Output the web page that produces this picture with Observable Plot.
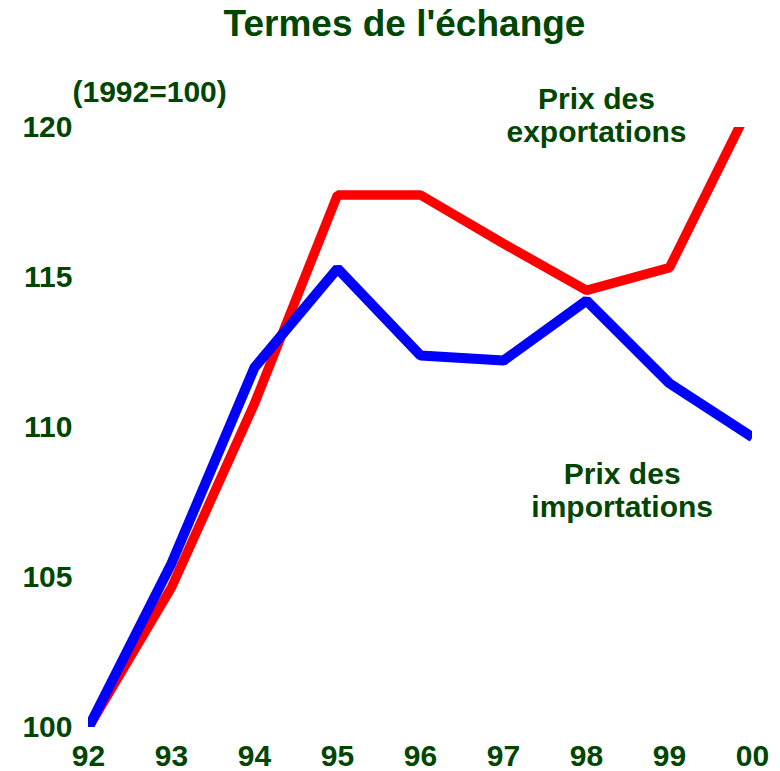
<!DOCTYPE html>
<html>
<head>
<meta charset="utf-8">
<script src="https://cdn.jsdelivr.net/npm/d3@7"></script>
<script src="https://cdn.jsdelivr.net/npm/@observablehq/plot@0.6"></script>
<style>
  html, body { margin: 0; padding: 0; background: #fff; }
</style>
</head>
<body>
<div id="chart"></div>
<script>
const years = [1992, 1993, 1994, 1995, 1996, 1997, 1998, 1999, 2000];
const exportPrices = [100, 104.67, 110.8, 117.75, 117.75, 116.13, 114.57, 115.33, 120.9];
const importPrices = [100, 105.47, 112.0, 115.3, 112.4, 112.23, 114.23, 111.47, 109.67];
const yTicks = [100, 105, 110, 115, 120];
const xTickLabels = ["92", "93", "94", "95", "96", "97", "98", "99", "00"];
const title = "Termes de l'échange";
const unitLabel = "(1992=100)";
const seriesLabels = [
  {text: "Prix des\nexportations", x: 1998.12, y: 121.4},
  {text: "Prix des\nimportations", x: 1998.43, y: 108.9}
];

const green = "#004600";
const font = "'Liberation Sans', Arial, sans-serif";

const exportData = years.map((year, i) => ({year, value: exportPrices[i]}));
const importData = years.map((year, i) => ({year, value: importPrices[i]}));

const chart = Plot.plot({
  width: 780,
  height: 771,
  marginLeft: 88,
  marginRight: 28,
  marginTop: 127,
  marginBottom: 44,
  style: {fontFamily: font, color: green, background: "#fff"},
  x: {domain: [1992, 2000]},
  y: {domain: [100, 120]},
  marks: [
    Plot.axisY({ticks: yTicks, tickSize: 0, tickPadding: 16, fontSize: 30, fontWeight: "bold", fontFamily: font, label: null, fill: green}),
    Plot.axisX({ticks: years, tickSize: 0, tickPadding: 17, fontSize: 30, fontWeight: "bold", fontFamily: font, label: null, fill: green,
      tickFormat: (d) => xTickLabels[years.indexOf(d)]}),
    Plot.line(exportData, {x: "year", y: "value", stroke: "#ff0000", strokeWidth: 9.5, strokeLinecap: "butt", strokeLinejoin: "miter", clip: "frame"}),
    Plot.line(importData, {x: "year", y: "value", stroke: "#0000ff", strokeWidth: 10, strokeLinecap: "butt", strokeLinejoin: "miter", clip: "frame"}),
    Plot.text([title], {text: (d) => d, frameAnchor: "top", lineAnchor: "bottom", dx: -16, dy: -92, fontSize: 37, fontWeight: "bold", fontFamily: font, fill: green}),
    Plot.text([unitLabel], {text: (d) => d, frameAnchor: "top-left", textAnchor: "start", lineAnchor: "bottom", dx: -16, dy: -26, fontSize: 30, fontWeight: "bold", fontFamily: font, fill: green}),
    Plot.text(seriesLabels, {x: "x", y: "y", text: "text", lineAnchor: "top", lineHeight: 1.1, fontSize: 30, fontWeight: "bold", fontFamily: font, fill: green})
  ]
});

document.getElementById("chart").appendChild(chart);
</script>
</body>
</html>
